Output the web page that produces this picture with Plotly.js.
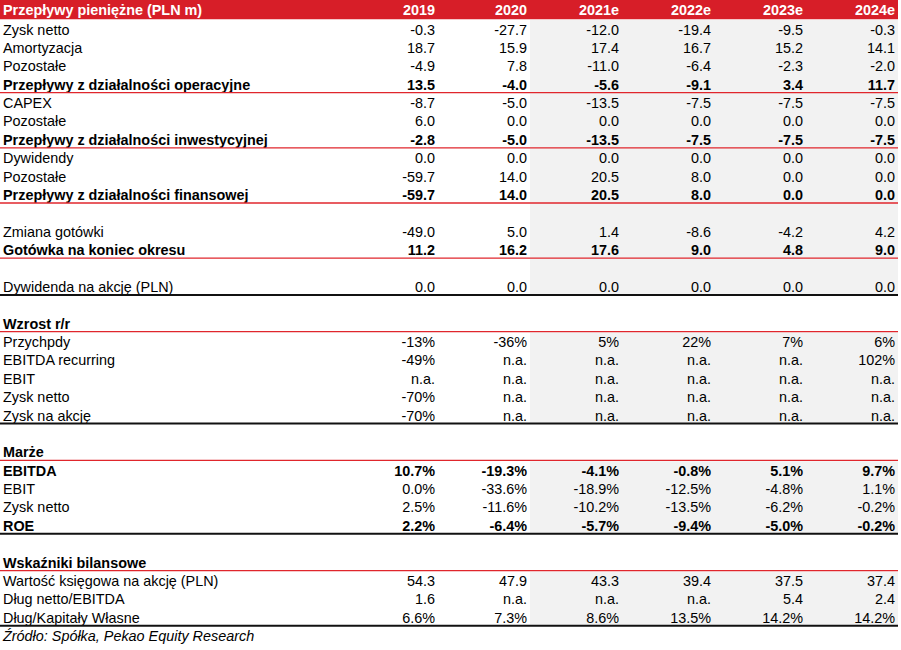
<!DOCTYPE html>
<html>
<head>
<meta charset="utf-8">
<script src="https://cdn.plot.ly/plotly-3.0.1.min.js"></script>
<style>html,body{margin:0;padding:0;background:#fff;}#chart{width:901px;height:650px;}</style>
</head>
<body>
<div id="chart"></div>
<script>
// ---------- DATA ----------
const headerTitle = "Przepływy pieniężne (PLN m)";
const years = ["2019", "2020", "2021e", "2022e", "2023e", "2024e"];
const rowLabels = [
  "Zysk netto", "Amortyzacja", "Pozostałe", "Przepływy z działalności operacyjne",
  "CAPEX", "Pozostałe", "Przepływy z działalności inwestycyjnej",
  "Dywidendy", "Pozostałe", "Przepływy z działalności finansowej",
  "", "Zmiana gotówki", "Gotówka na koniec okresu",
  "", "Dywidenda na akcję (PLN)",
  "", "Wzrost r/r", "Przychpdy", "EBITDA recurring", "EBIT", "Zysk netto", "Zysk na akcję",
  "", "Marże", "EBITDA", "EBIT", "Zysk netto", "ROE",
  "", "Wskaźniki bilansowe", "Wartość księgowa na akcję (PLN)", "Dług netto/EBITDA", "Dług/Kapitały Własne"
];
const v2019 = ["-0.3","18.7","-4.9","13.5","-8.7","6.0","-2.8","0.0","-59.7","-59.7","","-49.0","11.2","","0.0","","","-13%","-49%","n.a.","-70%","-70%","","","10.7%","0.0%","2.5%","2.2%","","","54.3","1.6","6.6%"];
const v2020 = ["-27.7","15.9","7.8","-4.0","-5.0","0.0","-5.0","0.0","14.0","14.0","","5.0","16.2","","0.0","","","-36%","n.a.","n.a.","n.a.","n.a.","","","-19.3%","-33.6%","-11.6%","-6.4%","","","47.9","n.a.","7.3%"];
const v2021e = ["-12.0","17.4","-11.0","-5.6","-13.5","0.0","-13.5","0.0","20.5","20.5","","1.4","17.6","","0.0","","","5%","n.a.","n.a.","n.a.","n.a.","","","-4.1%","-18.9%","-10.2%","-5.7%","","","43.3","n.a.","8.6%"];
const v2022e = ["-19.4","16.7","-6.4","-9.1","-7.5","0.0","-7.5","0.0","8.0","8.0","","-8.6","9.0","","0.0","","","22%","n.a.","n.a.","n.a.","n.a.","","","-0.8%","-12.5%","-13.5%","-9.4%","","","39.4","n.a.","13.5%"];
const v2023e = ["-9.5","15.2","-2.3","3.4","-7.5","0.0","-7.5","0.0","0.0","0.0","","-4.2","4.8","","0.0","","","7%","n.a.","n.a.","n.a.","n.a.","","","5.1%","-4.8%","-6.2%","-5.0%","","","37.5","5.4","14.2%"];
const v2024e = ["-0.3","14.1","-2.0","11.7","-7.5","0.0","-7.5","0.0","0.0","0.0","","4.2","9.0","","0.0","","","6%","102%","n.a.","n.a.","n.a.","","","9.7%","1.1%","-0.2%","-0.2%","","","37.4","2.4","14.2%"];
const sourceNote = "Źródło: Spółka, Pekao Equity Research";

// ---------- STYLE / LAYOUT CONFIG ----------
const boldRows = [4, 7, 10, 13, 17, 24, 25, 28, 30];     // 1-based row numbers
const redAfter = [4, 7, 10, 13, 17, 24, 30];
const blackAfter = [15, 22, 28, 33];
const grayBlocks = [[0.5, 15.5], [17.5, 22.5], [24.5, 28.5], [30.5, 33.5]];
const colVals = [v2019, v2020, v2021e, v2022e, v2023e, v2024e];

const PX0 = 435, COLW = 92, ROW0 = 10, ROWH = 18.38, W = 901, H = 650;
const FS = 14.4;
const toX = px => (px - PX0) / COLW;
const toY = py => (py - ROW0) / ROWH;
const YOFF = 2.6 / ROWH; // baseline nudge of text
const FONT = "Liberation Sans, Arial, sans-serif";

const rowIdx = rowLabels.map((_, i) => i + 1);
const textY = rowIdx.map(r => r + YOFF);
const wrap = (s, i) => (s && boldRows.includes(i + 1)) ? "<b>" + s + "</b>" : s;

const traces = [];
const base = {type: "scatter", mode: "text", hoverinfo: "skip", showlegend: false, cliponaxis: false};
// label column
traces.push(Object.assign({}, base, {
  x: rowIdx.map(() => toX(3)), y: textY,
  text: rowLabels.map(wrap), textposition: "middle right",
  textfont: {family: FONT, size: FS, color: "#000"}
}));
// value columns
colVals.forEach((vals, c) => {
  traces.push(Object.assign({}, base, {
    x: rowIdx.map(() => c), y: textY,
    text: vals.map(wrap), textposition: "middle left",
    textfont: {family: FONT, size: FS, color: "#000"}
  }));
});
// header
traces.push(Object.assign({}, base, {
  x: years.map((_, c) => c), y: years.map(() => YOFF * 0.4),
  text: years.map(s => "<b>" + s + "</b>"), textposition: "middle left",
  textfont: {family: FONT, size: FS, color: "#fff"}
}));
traces.push(Object.assign({}, base, {
  x: [toX(3)], y: [YOFF * 0.4],
  text: ["<b>" + headerTitle + "</b>"], textposition: "middle right",
  textfont: {family: FONT, size: FS, color: "#fff"}
}));
// source
traces.push(Object.assign({}, base, {
  x: [toX(3)], y: [rowLabels.length + 1 + YOFF],
  text: ["<i>" + sourceNote + "</i>"], textposition: "middle right",
  textfont: {family: FONT, size: FS, color: "#000"}
}));

const shapes = [];
const xL = toX(0), xR = toX(898);
shapes.push({type: "rect", xref: "x", yref: "y", x0: xL, x1: xR, y0: toY(0), y1: 0.5, fillcolor: "#d71e28", line: {width: 0}, layer: "below"});
grayBlocks.forEach(([a, b]) => shapes.push({type: "rect", xref: "x", yref: "y", x0: toX(530), x1: xR, y0: a + 0.05, y1: b, fillcolor: "#f2f2f2", line: {width: 0}, layer: "below"}));
redAfter.forEach(r => shapes.push({type: "line", xref: "x", yref: "y", x0: xL, x1: xR, y0: r + 0.5, y1: r + 0.5, line: {color: "#e0262c", width: 1.3}}));
blackAfter.forEach(r => shapes.push({type: "line", xref: "x", yref: "y", x0: xL, x1: xR, y0: r + 0.5, y1: r + 0.5, line: {color: "#111", width: 2}}));

const layout = {
  width: W, height: H, margin: {l: 0, r: 0, t: 0, b: 0, pad: 0},
  paper_bgcolor: "#fff", plot_bgcolor: "#fff",
  xaxis: {range: [toX(0), toX(W)], visible: false, fixedrange: true},
  yaxis: {range: [toY(H), toY(0)], visible: false, fixedrange: true},
  shapes: shapes, showlegend: false, font: {family: FONT}
};
Plotly.newPlot("chart", traces, layout, {staticPlot: true, displayModeBar: false});
</script>
</body>
</html>
